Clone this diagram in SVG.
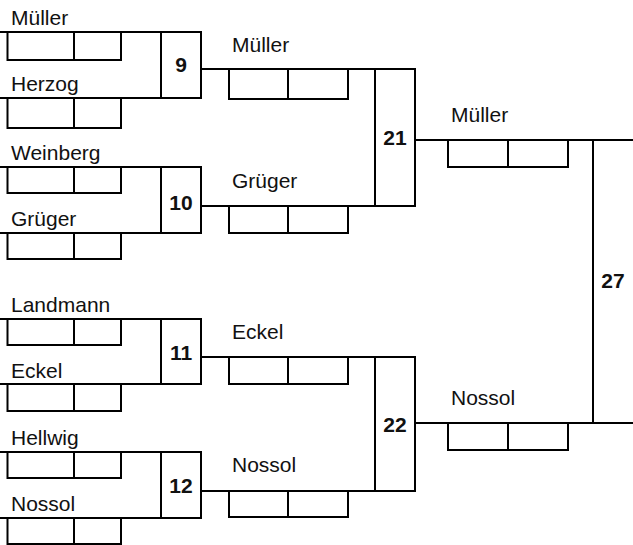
<svg xmlns="http://www.w3.org/2000/svg" width="633" height="545" viewBox="0 0 633 545">
<style>
  .ln{fill:none;stroke:#000;stroke-width:2;stroke-linecap:square}
  .nm{font-family:"Liberation Sans",Arial,sans-serif;font-size:21px;fill:#111}
  .no{font-family:"Liberation Sans",Arial,sans-serif;font-size:21px;font-weight:bold;fill:#111;text-anchor:middle}
</style>
<rect width="633" height="545" fill="#fff"/>
<g id="connectors" class="ln">
  <!-- round 2 slot lines -->
  <path d="M201 69H415"/>
  <path d="M201 206H415"/>
  <path d="M201 357H415"/>
  <path d="M201 491H415"/>
  <!-- round 3 slot lines -->
  <path d="M415 140H633"/>
  <path d="M415 423H633"/>
</g>
<g id="match9">
  <path class="ln" d="M0 32H161M0 98H161"/>
  <rect class="ln" x="161" y="32" width="40" height="66"/>
  <path class="ln" d="M7.5 32V60H121V32M74 32V60"/>
  <path class="ln" d="M7.5 98V128H121V98M74 98V128"/>
  <text class="nm" x="11" y="25">Müller</text>
  <text class="nm" x="11" y="91">Herzog</text>
  <text class="no" x="181" y="72">9</text>
</g>
<g id="match10">
  <path class="ln" d="M0 167H161M0 233H161"/>
  <rect class="ln" x="161" y="167" width="40" height="66"/>
  <path class="ln" d="M7.5 167V193H121V167M74 167V193"/>
  <path class="ln" d="M7.5 233V259H121V233M74 233V259"/>
  <text class="nm" x="11" y="160">Weinberg</text>
  <text class="nm" x="11" y="226">Grüger</text>
  <text class="no" x="181" y="210">10</text>
</g>
<g id="match11">
  <path class="ln" d="M0 319H161M0 384H161"/>
  <rect class="ln" x="161" y="319" width="40" height="65"/>
  <path class="ln" d="M7.5 319V345H121V319M74 319V345"/>
  <path class="ln" d="M7.5 384V411H121V384M74 384V411"/>
  <text class="nm" x="11" y="312">Landmann</text>
  <text class="nm" x="11" y="378">Eckel</text>
  <text class="no" x="181" y="360">11</text>
</g>
<g id="match12">
  <path class="ln" d="M0 452H161M0 518H161"/>
  <rect class="ln" x="161" y="452" width="40" height="66"/>
  <path class="ln" d="M7.5 452V478H121V452M74 452V478"/>
  <path class="ln" d="M7.5 518V544H121V518M74 518V544"/>
  <text class="nm" x="11" y="445">Hellwig</text>
  <text class="nm" x="11" y="511">Nossol</text>
  <text class="no" x="181" y="493">12</text>
</g>
<g id="match21">
  <rect class="ln" x="375" y="69" width="40" height="137"/>
  <path class="ln" d="M229 69V99H348V69M288 69V99"/>
  <path class="ln" d="M229 206V233H348V206M288 206V233"/>
  <text class="nm" x="232" y="52">Müller</text>
  <text class="nm" x="232" y="188">Grüger</text>
  <text class="no" x="395" y="145">21</text>
</g>
<g id="match22">
  <rect class="ln" x="375" y="357" width="40" height="134"/>
  <path class="ln" d="M229 357V384H348V357M288 357V384"/>
  <path class="ln" d="M229 491V517H348V491M288 491V517"/>
  <text class="nm" x="232" y="339">Eckel</text>
  <text class="nm" x="232" y="472">Nossol</text>
  <text class="no" x="395" y="432">22</text>
</g>
<g id="match27">
  <path class="ln" d="M593 140V423"/>
  <path class="ln" d="M448 140V167H568V140M508 140V167"/>
  <path class="ln" d="M448 423V450H568V423M508 423V450"/>
  <text class="nm" x="451" y="122">Müller</text>
  <text class="nm" x="451" y="405">Nossol</text>
  <text class="no" x="613" y="288">27</text>
</g>
</svg>
